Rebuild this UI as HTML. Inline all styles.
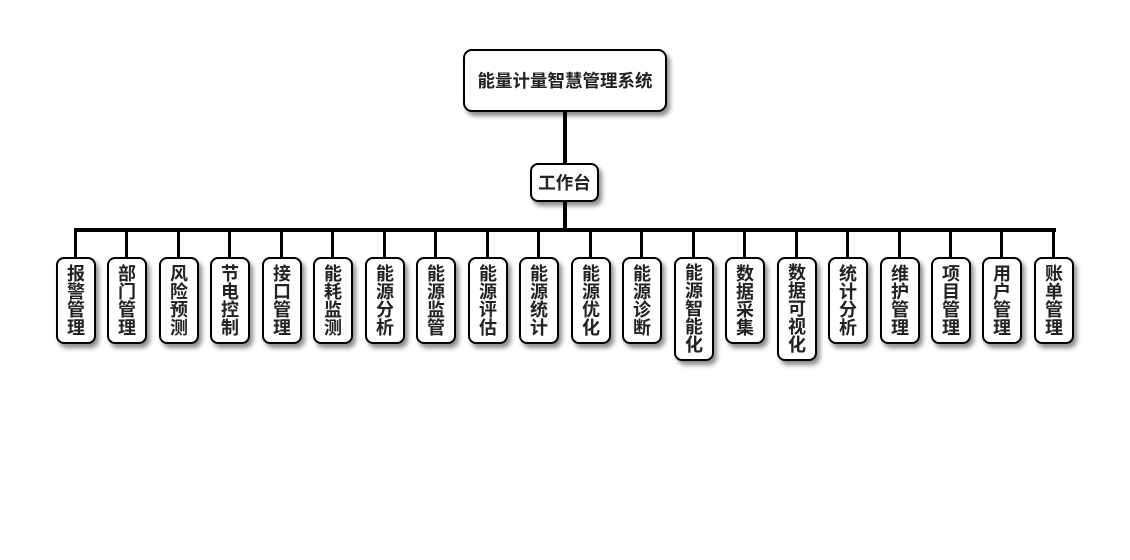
<!DOCTYPE html>
<html>
<head>
<meta charset="utf-8">
<style>
html,body{margin:0;padding:0;background:#fff;}
body{width:1130px;height:560px;position:relative;overflow:hidden;font-family:"Liberation Sans","Noto Sans CJK SC","WenQuanYi Zen Hei",sans-serif;}
.box{position:absolute;box-sizing:border-box;border:2px solid #000;background:#fff;border-radius:9px;box-shadow:3px 4px 5px rgba(0,0,0,0.45);display:flex;align-items:center;justify-content:center;font-weight:bold;color:#222;text-align:center;}
.ln{position:absolute;background:#000;}
.c{width:40px;font-size:18px;line-height:18px;border-radius:8px;}
</style>
</head>
<body>
<div class="box" style="left:463px;top:49px;width:204px;height:63px;font-size:17.5px;">能量计量智慧管理系统</div>
<div class="ln" style="left:563px;top:112px;width:4px;height:52px;"></div>
<div class="box" style="left:530px;top:163px;width:69px;height:39px;font-size:17.5px;border-radius:8px;">工作台</div>
<div class="ln" style="left:563px;top:202px;width:4px;height:28px;"></div>
<div class="ln" style="left:74px;top:228px;width:982px;height:4px;"></div>
<div id="kids"></div>
<script>
var names=["报警管理","部门管理","风险预测","节电控制","接口管理","能耗监测","能源分析","能源监管","能源评估","能源统计","能源优化","能源诊断","能源智能化","数据采集","数据可视化","统计分析","维护管理","项目管理","用户管理","账单管理"];
var h="";
for(var i=0;i<names.length;i++){
  var cx=Math.round(76+i*51.47);
  var n=names[i];
  var ht=n.length==5?104:87;
  h+='<div class="ln" style="left:'+(cx-2)+'px;top:230px;width:3px;height:28px;"></div>';
  h+='<div class="box c" style="left:'+(cx-20)+'px;top:257px;height:'+ht+'px;"><div>'+n.split("").join("<br>")+'</div></div>';
}
document.getElementById("kids").innerHTML=h;
</script>
</body>
</html>
